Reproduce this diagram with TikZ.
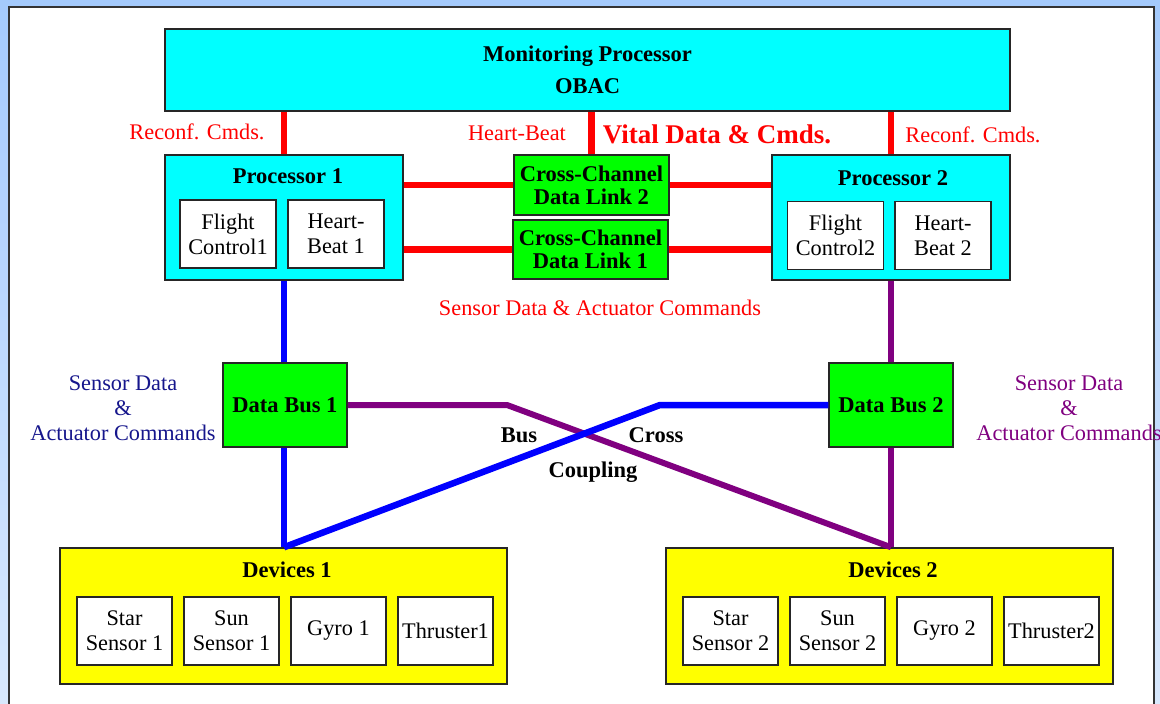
\documentclass[tikz,border=0pt]{standalone}
\usepackage{fontspec}
\setmainfont{Liberation Serif}
\definecolor{bgtop}{RGB}{164,202,252}
\definecolor{bgbottom}{RGB}{216,232,252}
\definecolor{boxcyan}{RGB}{0,255,255}
\definecolor{boxyellow}{RGB}{255,255,0}
\definecolor{boxgreen}{RGB}{0,255,0}
\definecolor{buspurple}{RGB}{128,0,128}
\definecolor{navytext}{RGB}{22,22,140}

\begin{document}
\begin{tikzpicture}[x=1pt, y=-1pt,
    box/.style={draw=black!85, line width=1.5pt, inner sep=0pt, align=center,
        font=\fontsize{22.3}{25}\selectfont},
    unitbox/.style={box, fill=white, minimum width=96pt, minimum height=68pt},
    headtext/.style={inner sep=0pt, font=\fontsize{22.5}{25}\selectfont\bfseries},
    plaintext/.style={inner sep=0pt, align=center, font=\fontsize{22.3}{25}\selectfont},
    redline/.style={draw=red, line width=6.5pt},
    blueline/.style={draw=blue, line width=6.5pt},
    purpleline/.style={draw=buspurple, line width=6pt}]

    % constants
    \def\devgap{107}

    % frame
    \useasboundingbox (0,0) rectangle (1160,704);
    \shade [top color=bgtop, bottom color=bgbottom] (0,0) rectangle (1160,704);
    \draw [draw=black!80, line width=2pt, fill=white] (9,7) rectangle (1154,712);

    % monitoring processor
    \node [box, fill=boxcyan, minimum width=845pt, minimum height=82pt,
        font=\fontsize{22.5}{32}\selectfont\bfseries] (mon) at (587.5,70) {Monitoring Processor\\OBAC};

    % processors
    \node [box, fill=boxcyan, minimum width=238pt, minimum height=125pt] (proc1) at (284,217.5) {};
    \node [headtext] (proc1title) at (288,176) {Processor 1};
    \node [unitbox] (fc1) at (228,234) {Flight\\Control1};
    \node [unitbox] (hb1) at (336,234) {Heart-\\Beat 1};

    \node [box, fill=boxcyan, minimum width=238pt, minimum height=125pt] (proc2) at (891,217.5) {};
    \node [headtext] (proc2title) at (893,178) {Processor 2};
    \node [unitbox] (fc2) at (835.5,235.5) {Flight\\Control2};
    \node [unitbox] (hb2) at (943,235.5) {Heart-\\Beat 2};

    % cross-channel links
    \node [box, fill=boxgreen, minimum width=155pt, minimum height=60pt,
        font=\fontsize{22.5}{23}\selectfont\bfseries] (dl2) at (591.5,185) {Cross-Channel\\Data Link 2};
    \node [box, fill=boxgreen, minimum width=155pt, minimum height=59pt,
        font=\fontsize{22.5}{23}\selectfont\bfseries] (dl1) at (590.5,249.5) {Cross-Channel\\Data Link 1};

    % data buses
    \node [box, fill=boxgreen, minimum width=124pt, minimum height=84pt,
        font=\fontsize{22.5}{25}\selectfont\bfseries] (bus1) at (285,405) {Data Bus 1};
    \node [box, fill=boxgreen, minimum width=124pt, minimum height=84pt,
        font=\fontsize{22.5}{25}\selectfont\bfseries] (bus2) at (891,405) {Data Bus 2};

    % devices
    \foreach \n/\xo in {1/283.5, 2/889.5} {
        \node [box, fill=boxyellow, minimum width=447pt, minimum height=136pt] (dev\n) at (\xo,616) {};
        \node [headtext] (dev\n title) at (\xo+3.5,570) {Devices \n};
        \foreach \txt [count=\i] in {Star\\Sensor \n, Sun\\Sensor \n, Gyro \n, Thruster\n}
            \node [unitbox, minimum width=95pt] (dev\n-\i) at (\xo-159+\i*\devgap-\devgap,631) {\txt};
    }

    % links to the monitor
    \draw [redline] (mon.south -| proc1.north) -- (proc1.north);
    \draw [redline] (mon.south -| proc2.north) -- (proc2.north);
    \draw [redline] (mon.south -| dl2.north) -- (dl2.north);
    \draw [redline] (proc1.east |- dl2.west) -- (dl2.west);
    \draw [redline] (dl2.east) -- (proc2.west |- dl2.east);
    \draw [redline] (proc1.east |- dl1.west) -- (dl1.west);
    \draw [redline] (dl1.east) -- (proc2.west |- dl1.east);

    % buses and cross coupling
    \coordinate (purpleknee) at (507,405);
    \coordinate (blueknee) at (660,405);
    \draw [purpleline] (proc2.south) -- (bus2.north);
    \draw [purpleline] (bus2.south) -- (bus2.south |- dev2.north);
    \draw [purpleline] (bus1.east) -- (purpleknee) -- (bus2.south |- dev2.north);
    \draw [blueline] (proc1.south) -- (proc1.south |- bus1.north);
    \draw [blueline] (bus1.south -| proc1.south) -- (proc1.south |- dev1.north);
    \draw [blueline] (proc1.south |- dev1.north) -- (blueknee) -- (bus2.west);

    % labels
    \node [plaintext, text=red] (reconf1) at (197,132) {Reconf. Cmds.};
    \node [plaintext, text=red] (reconf2) at (973,135) {Reconf. Cmds.};
    \node [plaintext, text=red] (hbeat) at (517,133) {Heart-Beat};
    \node [inner sep=0pt, text=red, font=\fontsize{27}{30}\selectfont\bfseries] (vital) at (717,134) {Vital Data \& Cmds.};
    \node [plaintext, text=red] (sensact) at (600,308) {Sensor Data \& Actuator Commands};
    \node [plaintext, text=navytext] (bus1label) at (123,408) {Sensor Data\\\&\\Actuator Commands};
    \node [plaintext, text=buspurple] (bus2label) at (1069,408) {Sensor Data\\\&\\Actuator Commands};
    \node [headtext] (buslabel) at (519,435) {Bus};
    \node [headtext] (crosslabel) at (656,435) {Cross};
    \node [headtext] (couplinglabel) at (593,472) {Coupling};

\end{tikzpicture}
\end{document}
